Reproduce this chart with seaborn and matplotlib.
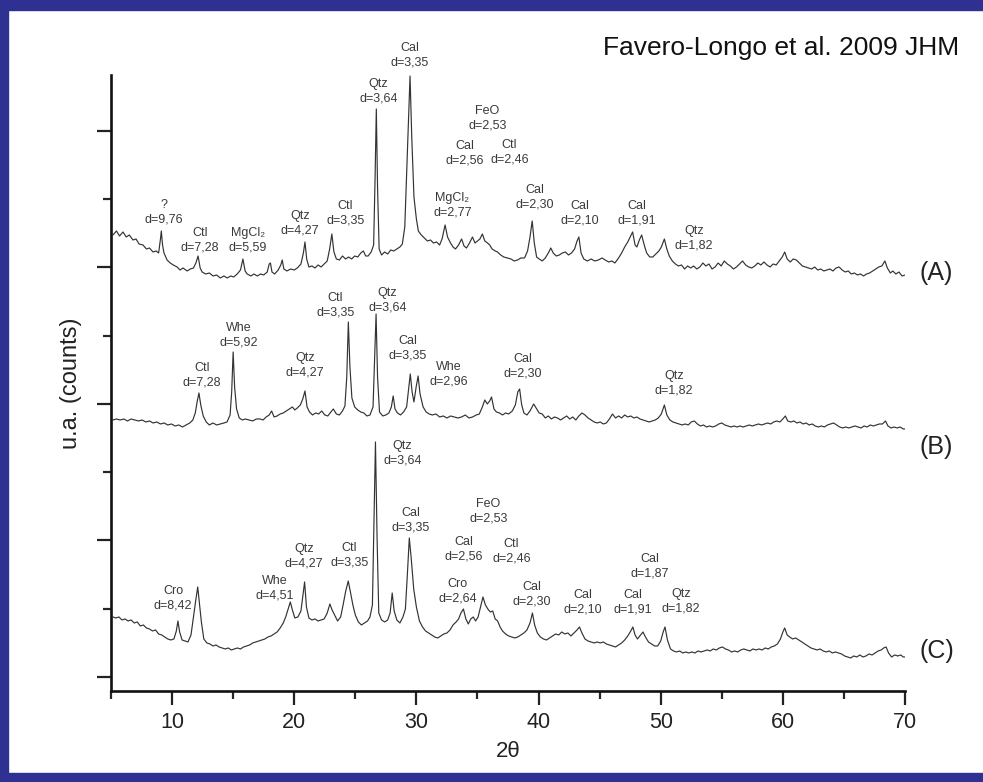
import seaborn as sns
import matplotlib.pyplot as plt
from matplotlib.patches import Rectangle
from matplotlib.ticker import MultipleLocator

# XRD patterns: (2theta in deg, intensity in a.u.)
pattern_a = [
    (5.16, 442), (5.45, 446), (5.70, 441), (5.98, 445), (6.25, 440), (6.50, 442), (6.80, 437),
    (7.05, 438), (7.30, 433), (7.62, 432), (7.90, 428), (8.15, 429), (8.44, 425), (8.70, 426),
    (8.90, 424), (9.05, 438), (9.12, 446), (9.22, 432), (9.34, 424), (9.59, 417), (9.85, 414),
    (10.10, 412), (10.41, 410), (10.65, 407), (10.90, 409), (11.23, 406), (11.50, 408),
    (11.75, 409), (11.95, 414), (12.13, 421), (12.30, 409), (12.46, 405), (12.75, 403),
    (13.05, 404), (13.36, 401), (13.65, 402), (13.95, 399), (14.25, 401), (14.51, 399),
    (14.80, 401), (15.05, 400), (15.33, 403), (15.60, 407), (15.80, 418), (15.98, 406),
    (16.15, 403), (16.45, 401), (16.70, 403), (16.97, 401), (17.25, 403), (17.50, 402),
    (17.79, 405), (17.95, 413), (18.05, 414), (18.18, 405), (18.40, 403), (18.69, 407),
    (18.90, 412), (19.02, 417), (19.15, 408), (19.40, 406), (19.70, 408), (20.00, 407),
    (20.25, 409), (20.55, 413), (20.75, 424), (20.88, 435), (21.02, 418), (21.20, 410),
    (21.45, 411), (21.70, 409), (21.95, 412), (22.20, 410), (22.45, 413), (22.70, 416),
    (22.90, 428), (23.08, 443), (23.25, 425), (23.45, 418), (23.70, 417), (23.95, 421),
    (24.20, 418), (24.45, 420), (24.70, 418), (24.95, 421), (25.20, 420), (25.45, 424),
    (25.66, 426), (25.85, 421), (26.05, 421), (26.30, 425), (26.50, 432), (26.62, 500),
    (26.72, 568), (26.82, 490), (26.95, 428), (27.15, 422), (27.40, 425), (27.65, 423),
    (27.90, 427), (28.15, 426), (28.40, 428), (28.65, 430), (28.85, 433), (29.05, 450),
    (29.25, 520), (29.48, 601), (29.62, 540), (29.80, 480), (30.00, 458), (30.16, 446),
    (30.40, 442), (30.65, 439), (30.90, 436), (31.15, 437), (31.40, 434), (31.65, 435),
    (31.90, 432), (32.10, 438), (32.35, 452), (32.55, 440), (32.79, 434), (33.00, 430),
    (33.20, 428), (33.45, 432), (33.70, 438), (33.90, 431), (34.10, 429), (34.35, 434),
    (34.59, 440), (34.80, 434), (35.00, 436), (35.20, 438), (35.40, 443), (35.60, 436),
    (35.82, 434), (36.00, 432), (36.20, 428), (36.45, 426), (36.64, 425), (36.90, 422),
    (37.15, 420), (37.46, 419), (37.75, 418), (38.00, 416), (38.28, 417), (38.55, 419),
    (38.85, 419), (39.10, 426), (39.30, 440), (39.48, 456), (39.65, 434), (39.84, 420),
    (40.05, 418), (40.30, 416), (40.55, 419), (40.80, 424), (41.00, 429), (41.20, 424),
    (41.45, 421), (41.70, 422), (41.95, 424), (42.20, 425), (42.45, 422), (42.70, 424),
    (42.95, 428), (43.15, 436), (43.30, 440), (43.48, 424), (43.70, 418), (44.00, 416),
    (44.30, 418), (44.60, 416), (44.90, 417), (45.20, 419), (45.45, 417), (45.75, 415),
    (46.00, 416), (46.25, 414), (46.55, 419), (46.80, 424), (47.05, 430), (47.30, 435),
    (47.50, 440), (47.70, 445), (47.90, 432), (48.05, 430), (48.25, 437), (48.44, 442),
    (48.65, 432), (48.85, 424), (49.10, 420), (49.35, 420), (49.60, 423), (49.85, 426),
    (50.05, 430), (50.30, 438), (50.50, 428), (50.70, 421), (50.95, 416), (51.20, 413),
    (51.45, 411), (51.70, 412), (51.95, 408), (52.20, 411), (52.45, 409), (52.70, 411),
    (52.95, 408), (53.20, 410), (53.45, 414), (53.70, 411), (53.95, 413), (54.20, 408),
    (54.45, 410), (54.70, 414), (54.95, 411), (55.20, 416), (55.45, 413), (55.70, 411),
    (55.95, 408), (56.20, 410), (56.45, 413), (56.70, 416), (56.95, 412), (57.20, 410),
    (57.45, 409), (57.70, 411), (57.95, 414), (58.20, 412), (58.45, 415), (58.70, 412),
    (58.95, 410), (59.20, 413), (59.45, 412), (59.70, 416), (59.95, 420), (60.15, 425),
    (60.35, 418), (60.60, 415), (60.85, 418), (61.10, 417), (61.35, 414), (61.60, 411),
    (61.85, 410), (62.10, 409), (62.35, 408), (62.60, 410), (62.85, 407), (63.10, 408),
    (63.35, 406), (63.60, 407), (63.85, 408), (64.10, 406), (64.35, 409), (64.60, 410),
    (64.85, 407), (65.10, 405), (65.35, 406), (65.60, 403), (65.85, 404), (66.10, 402),
    (66.35, 403), (66.60, 401), (66.85, 403), (67.10, 404), (67.35, 406), (67.60, 408),
    (67.85, 410), (68.10, 411), (68.35, 416), (68.55, 409), (68.80, 404), (69.00, 406),
    (69.25, 403), (69.50, 405), (69.75, 401), (70.00, 402)]

pattern_b = [
    (5.16, 257), (5.45, 258), (5.75, 257), (6.05, 258), (6.35, 256), (6.65, 258), (6.95, 257),
    (7.25, 256), (7.55, 257), (7.85, 255), (8.15, 256), (8.45, 254), (8.75, 255), (9.05, 253),
    (9.35, 254), (9.65, 252), (9.95, 253), (10.25, 251), (10.55, 252), (10.85, 250),
    (11.15, 252), (11.45, 254), (11.70, 257), (11.90, 264), (12.05, 275), (12.20, 284),
    (12.35, 272), (12.55, 261), (12.80, 255), (13.05, 252), (13.35, 254), (13.65, 252),
    (13.95, 253), (14.25, 254), (14.50, 255), (14.75, 262), (14.88, 285), (15.00, 325),
    (15.12, 290), (15.28, 268), (15.50, 259), (15.75, 257), (16.00, 258), (16.30, 257),
    (16.60, 256), (16.90, 258), (17.20, 258), (17.45, 257), (17.70, 260), (17.95, 262),
    (18.15, 266), (18.35, 260), (18.60, 261), (18.85, 263), (19.10, 264), (19.35, 266),
    (19.60, 268), (19.85, 270), (20.05, 267), (20.25, 269), (20.50, 272), (20.70, 278),
    (20.88, 286), (21.05, 270), (21.25, 265), (21.50, 262), (21.75, 264), (22.00, 263),
    (22.25, 266), (22.50, 262), (22.75, 261), (23.00, 265), (23.20, 268), (23.45, 263),
    (23.70, 262), (23.95, 266), (24.15, 271), (24.30, 300), (24.43, 355), (24.56, 310),
    (24.72, 279), (24.95, 270), (25.20, 267), (25.45, 265), (25.70, 264), (25.95, 261),
    (26.20, 262), (26.45, 270), (26.58, 320), (26.70, 363), (26.82, 300), (26.98, 265),
    (27.25, 261), (27.50, 262), (27.75, 264), (27.95, 270), (28.10, 281), (28.25, 268),
    (28.45, 264), (28.70, 262), (28.95, 265), (29.20, 270), (29.38, 290), (29.50, 303),
    (29.65, 285), (29.80, 275), (29.98, 290), (30.14, 301), (30.30, 283), (30.55, 270),
    (30.80, 265), (31.05, 263), (31.30, 262), (31.60, 263), (31.90, 260), (32.20, 261),
    (32.50, 259), (32.80, 261), (33.10, 260), (33.40, 259), (33.70, 260), (34.00, 262),
    (34.30, 259), (34.60, 260), (34.90, 262), (35.15, 263), (35.40, 270), (35.60, 277),
    (35.80, 273), (36.00, 276), (36.15, 280), (36.35, 268), (36.55, 265), (36.80, 264),
    (37.05, 262), (37.30, 264), (37.55, 263), (37.85, 266), (38.10, 272), (38.30, 285),
    (38.45, 288), (38.62, 272), (38.80, 264), (39.05, 262), (39.30, 266), (39.60, 273),
    (39.85, 268), (40.05, 264), (40.30, 263), (40.55, 259), (40.80, 261), (41.05, 258),
    (41.30, 260), (41.55, 259), (41.80, 257), (42.05, 259), (42.30, 261), (42.55, 258),
    (42.80, 260), (43.05, 257), (43.30, 261), (43.55, 264), (43.80, 262), (44.05, 259),
    (44.30, 257), (44.55, 255), (44.80, 254), (45.05, 255), (45.30, 253), (45.55, 254),
    (45.80, 258), (46.05, 263), (46.30, 259), (46.55, 261), (46.80, 259), (47.05, 262),
    (47.30, 260), (47.55, 261), (47.80, 259), (48.05, 260), (48.30, 258), (48.55, 257),
    (48.80, 256), (49.05, 255), (49.30, 256), (49.55, 257), (49.80, 259), (50.05, 263),
    (50.30, 272), (50.50, 262), (50.75, 257), (51.00, 255), (51.25, 254), (51.50, 253),
    (51.75, 252), (52.00, 253), (52.25, 252), (52.50, 255), (52.75, 256), (53.00, 253),
    (53.25, 251), (53.50, 252), (53.75, 250), (54.00, 251), (54.25, 250), (54.50, 251),
    (54.75, 253), (55.00, 254), (55.25, 252), (55.50, 251), (55.75, 250), (56.00, 251),
    (56.25, 250), (56.50, 251), (56.75, 250), (57.00, 251), (57.25, 252), (57.50, 251),
    (57.75, 252), (58.00, 253), (58.25, 252), (58.50, 253), (58.75, 254), (59.00, 253),
    (59.25, 255), (59.50, 256), (59.75, 255), (60.00, 258), (60.20, 261), (60.40, 256),
    (60.65, 255), (60.90, 256), (61.15, 254), (61.40, 255), (61.65, 253), (61.90, 254),
    (62.15, 252), (62.40, 253), (62.65, 251), (62.90, 250), (63.15, 251), (63.40, 250),
    (63.65, 252), (63.90, 253), (64.15, 254), (64.40, 252), (64.65, 250), (64.90, 249),
    (65.15, 250), (65.40, 249), (65.65, 250), (65.90, 251), (66.15, 250), (66.40, 249),
    (66.65, 251), (66.90, 250), (67.15, 252), (67.40, 251), (67.65, 252), (67.90, 253),
    (68.15, 253), (68.40, 256), (68.60, 251), (68.85, 249), (69.10, 250), (69.35, 249),
    (69.60, 250), (69.85, 248), (70.00, 248)]

pattern_c = [
    (5.16, 60), (5.40, 59), (5.65, 60), (5.90, 57), (6.15, 58), (6.40, 56), (6.65, 57),
    (6.90, 54), (7.15, 55), (7.40, 51), (7.65, 52), (7.90, 49), (8.15, 48), (8.40, 46),
    (8.65, 47), (8.90, 43), (9.15, 42), (9.40, 40), (9.65, 38), (9.90, 37), (10.15, 38),
    (10.35, 46), (10.48, 56), (10.62, 45), (10.82, 37), (11.05, 36), (11.30, 35), (11.55, 42),
    (11.75, 60), (11.92, 75), (12.10, 90), (12.25, 72), (12.40, 55), (12.60, 38), (12.85, 34),
    (13.10, 33), (13.35, 31), (13.60, 32), (13.85, 30), (14.10, 29), (14.35, 28), (14.60, 29),
    (14.85, 27), (15.10, 28), (15.35, 29), (15.60, 28), (15.85, 30), (16.10, 31), (16.35, 32),
    (16.60, 34), (16.85, 35), (17.10, 36), (17.35, 37), (17.60, 38), (17.85, 40), (18.10, 41),
    (18.35, 43), (18.60, 45), (18.85, 49), (19.10, 54), (19.30, 60), (19.50, 68), (19.68, 75),
    (19.85, 67), (20.05, 59), (20.30, 60), (20.55, 66), (20.72, 82), (20.85, 95), (21.00, 70),
    (21.20, 59), (21.45, 57), (21.70, 58), (21.95, 56), (22.20, 57), (22.45, 58), (22.70, 64),
    (22.92, 73), (23.10, 67), (23.30, 62), (23.55, 56), (23.80, 60), (24.00, 72), (24.20, 85),
    (24.42, 96), (24.60, 85), (24.80, 72), (25.00, 62), (25.25, 55), (25.50, 52), (25.75, 54),
    (26.00, 56), (26.20, 60), (26.40, 72), (26.52, 150), (26.65, 235), (26.78, 140),
    (26.92, 64), (27.15, 57), (27.40, 55), (27.65, 57), (27.85, 64), (28.02, 84), (28.18, 66),
    (28.40, 57), (28.65, 54), (28.90, 60), (29.10, 68), (29.25, 100), (29.42, 139),
    (29.58, 118), (29.78, 88), (30.00, 70), (30.25, 56), (30.50, 50), (30.75, 46), (31.00, 44),
    (31.25, 42), (31.50, 40), (31.75, 39), (32.00, 41), (32.25, 43), (32.50, 44), (32.75, 47),
    (33.00, 52), (33.25, 55), (33.45, 58), (33.65, 64), (33.85, 68), (34.05, 58), (34.25, 53),
    (34.45, 58), (34.65, 60), (34.85, 56), (35.05, 60), (35.25, 70), (35.45, 80), (35.65, 72),
    (35.85, 68), (36.05, 65), (36.25, 66), (36.45, 58), (36.65, 56), (36.85, 50), (37.05, 46),
    (37.30, 43), (37.55, 41), (37.80, 40), (38.05, 39), (38.30, 40), (38.55, 42), (38.80, 44),
    (39.05, 47), (39.30, 54), (39.50, 64), (39.68, 52), (39.90, 44), (40.15, 40), (40.40, 38),
    (40.65, 37), (40.90, 39), (41.15, 41), (41.40, 43), (41.65, 42), (41.90, 45), (42.15, 43),
    (42.40, 44), (42.65, 41), (42.90, 44), (43.15, 47), (43.35, 50), (43.55, 44), (43.80, 38),
    (44.05, 36), (44.30, 35), (44.55, 34), (44.80, 35), (45.05, 34), (45.30, 35), (45.55, 33),
    (45.80, 32), (46.05, 31), (46.30, 30), (46.55, 32), (46.80, 34), (47.05, 37), (47.30, 41),
    (47.55, 46), (47.72, 50), (47.90, 42), (48.10, 38), (48.35, 42), (48.55, 45), (48.75, 40),
    (49.00, 35), (49.25, 33), (49.50, 31), (49.75, 31), (50.00, 36), (50.20, 45), (50.35, 50),
    (50.55, 37), (50.80, 28), (51.05, 26), (51.30, 25), (51.55, 26), (51.80, 24), (52.05, 25),
    (52.30, 24), (52.55, 25), (52.80, 24), (53.05, 26), (53.30, 25), (53.55, 26), (53.80, 27),
    (54.05, 26), (54.30, 28), (54.55, 27), (54.80, 29), (55.05, 30), (55.30, 28), (55.55, 27),
    (55.80, 25), (56.05, 26), (56.30, 25), (56.55, 27), (56.80, 28), (57.05, 27), (57.30, 26),
    (57.55, 28), (57.80, 27), (58.05, 28), (58.30, 27), (58.55, 29), (58.80, 28), (59.05, 30),
    (59.30, 31), (59.55, 33), (59.80, 38), (60.00, 45), (60.15, 49), (60.35, 42), (60.55, 40),
    (60.80, 38), (61.05, 39), (61.30, 37), (61.55, 35), (61.80, 33), (62.05, 31), (62.30, 29),
    (62.55, 28), (62.80, 27), (63.05, 28), (63.30, 26), (63.55, 25), (63.80, 26), (64.05, 24),
    (64.30, 25), (64.55, 24), (64.80, 23), (65.05, 21), (65.30, 20), (65.55, 19), (65.80, 21),
    (66.05, 20), (66.30, 22), (66.55, 20), (66.80, 21), (67.05, 23), (67.30, 22), (67.55, 24),
    (67.80, 26), (68.05, 27), (68.25, 29), (68.45, 30), (68.65, 24), (68.90, 20), (69.15, 22),
    (69.40, 21), (69.65, 22), (69.85, 20), (70.00, 20)]

# peak labels
labels_a = ["?\nd=9,76", "Ctl\nd=7,28", "MgCl₂\nd=5,59", "Qtz\nd=4,27", "Ctl\nd=3,35",
            "Qtz\nd=3,64", "Cal\nd=3,35", "FeO\nd=2,53", "Cal\nd=2,56", "Ctl\nd=2,46",
            "MgCl₂\nd=2,77", "Cal\nd=2,30", "Cal\nd=2,10", "Cal\nd=1,91", "Qtz\nd=1,82"]
labels_a_x = [9.34, 12.30, 16.23, 20.49, 24.18, 26.89, 29.43, 35.82, 33.93, 37.62,
              32.95, 39.67, 43.36, 48.03, 52.70]
labels_a_y = [465, 437, 437, 454, 464, 586, 622, 559, 524, 525, 472, 480, 464, 464, 439]

labels_b = ["Ctl\nd=7,28", "Whe\nd=5,92", "Qtz\nd=4,27", "Ctl\nd=3,35", "Qtz\nd=3,64",
            "Cal\nd=3,35", "Whe\nd=2,96", "Cal\nd=2,30", "Qtz\nd=1,82"]
labels_b_x = [12.46, 15.49, 20.90, 23.36, 27.62, 29.26, 32.62, 38.69, 51.07]
labels_b_y = [302, 342, 312, 372, 377, 329, 303, 311, 294]

labels_c = ["Cro\nd=8,42", "Whe\nd=4,51", "Qtz\nd=4,27", "Ctl\nd=3,35", "Qtz\nd=3,64",
            "Cal\nd=3,35", "FeO\nd=2,53", "Cal\nd=2,56", "Ctl\nd=2,46", "Cro\nd=2,64",
            "Cal\nd=2,30", "Cal\nd=2,10", "Cal\nd=1,91", "Cal\nd=1,87", "Qtz\nd=1,82"]
labels_c_x = [10.08, 18.44, 20.82, 24.51, 28.85, 29.51, 35.90, 33.85, 37.79, 33.36,
              39.43, 43.61, 47.70, 49.10, 51.64]
labels_c_y = [79, 89, 121, 122, 224, 157, 166, 128, 126, 86, 83, 75, 75, 111, 76]

samples = ["(A)", "(B)", "(C)"]
samples_y = [404, 230, 26]

sns.set_style("ticks")
plt.rcParams['font.family'] = ['Liberation Sans', 'DejaVu Sans']

fig = plt.figure(figsize=(9.83, 7.82), dpi=100)
fig.patch.set_facecolor('white')
blue = '#2f3192'
fig.patches.append(Rectangle((0, 0.9872), 1, 0.0128, transform=fig.transFigure, color=blue, zorder=0))
fig.patches.append(Rectangle((0, 0), 0.008, 1, transform=fig.transFigure, color=blue, zorder=0))
fig.patches.append(Rectangle((0, 0), 1, 0.0115, transform=fig.transFigure, color=blue, zorder=0))

ax = fig.add_axes([0.1129, 0.1164, 0.8078, 0.7877])
for pat in [pattern_a, pattern_b, pattern_c]:
    th, ct = zip(*pat)
    sns.lineplot(x=list(th), y=list(ct), ax=ax, color='#333333', lw=0.85, sort=False,
                 estimator=None)

for labs, lx, ly in [(labels_a, labels_a_x, labels_a_y), (labels_b, labels_b_x, labels_b_y),
                     (labels_c, labels_c_x, labels_c_y)]:
    for t, x, y in zip(labs, lx, ly):
        ax.text(x, y, t, ha='center', va='center', fontsize=9, color='#3a3a3a',
                linespacing=1.25, clip_on=False)

for s, y in zip(samples, samples_y):
    ax.text(71.2, y, s, ha='left', va='center', fontsize=18, color='#222222', clip_on=False)

ax.set_xlim(5, 70)
ax.set_ylim(-14, 602)
ax.xaxis.set_major_locator(MultipleLocator(10))
ax.xaxis.set_minor_locator(MultipleLocator(5))
ax.yaxis.set_major_locator(MultipleLocator(136.5))
ax.yaxis.set_minor_locator(MultipleLocator(68.25))
ax.set_yticklabels([])
ax.tick_params(which='major', length=10, width=1.6, labelsize=15.5, colors='#222222', pad=5)
ax.tick_params(which='minor', length=5.5, width=1.6)
sns.despine(ax=ax)
for sp in ['left', 'bottom']:
    ax.spines[sp].set_linewidth(1.9)
    ax.spines[sp].set_color('#111111')
ax.set_xlabel("2θ", fontsize=16, labelpad=6, color='#222222')
ax.set_ylabel("u.a. (counts)", fontsize=17, labelpad=6, color='#222222')

fig.text(0.976, 0.938, "Favero-Longo et al. 2009 JHM", ha='right', va='center', fontsize=19,
         color='#111111')

fig.savefig("out.png", dpi=100)
